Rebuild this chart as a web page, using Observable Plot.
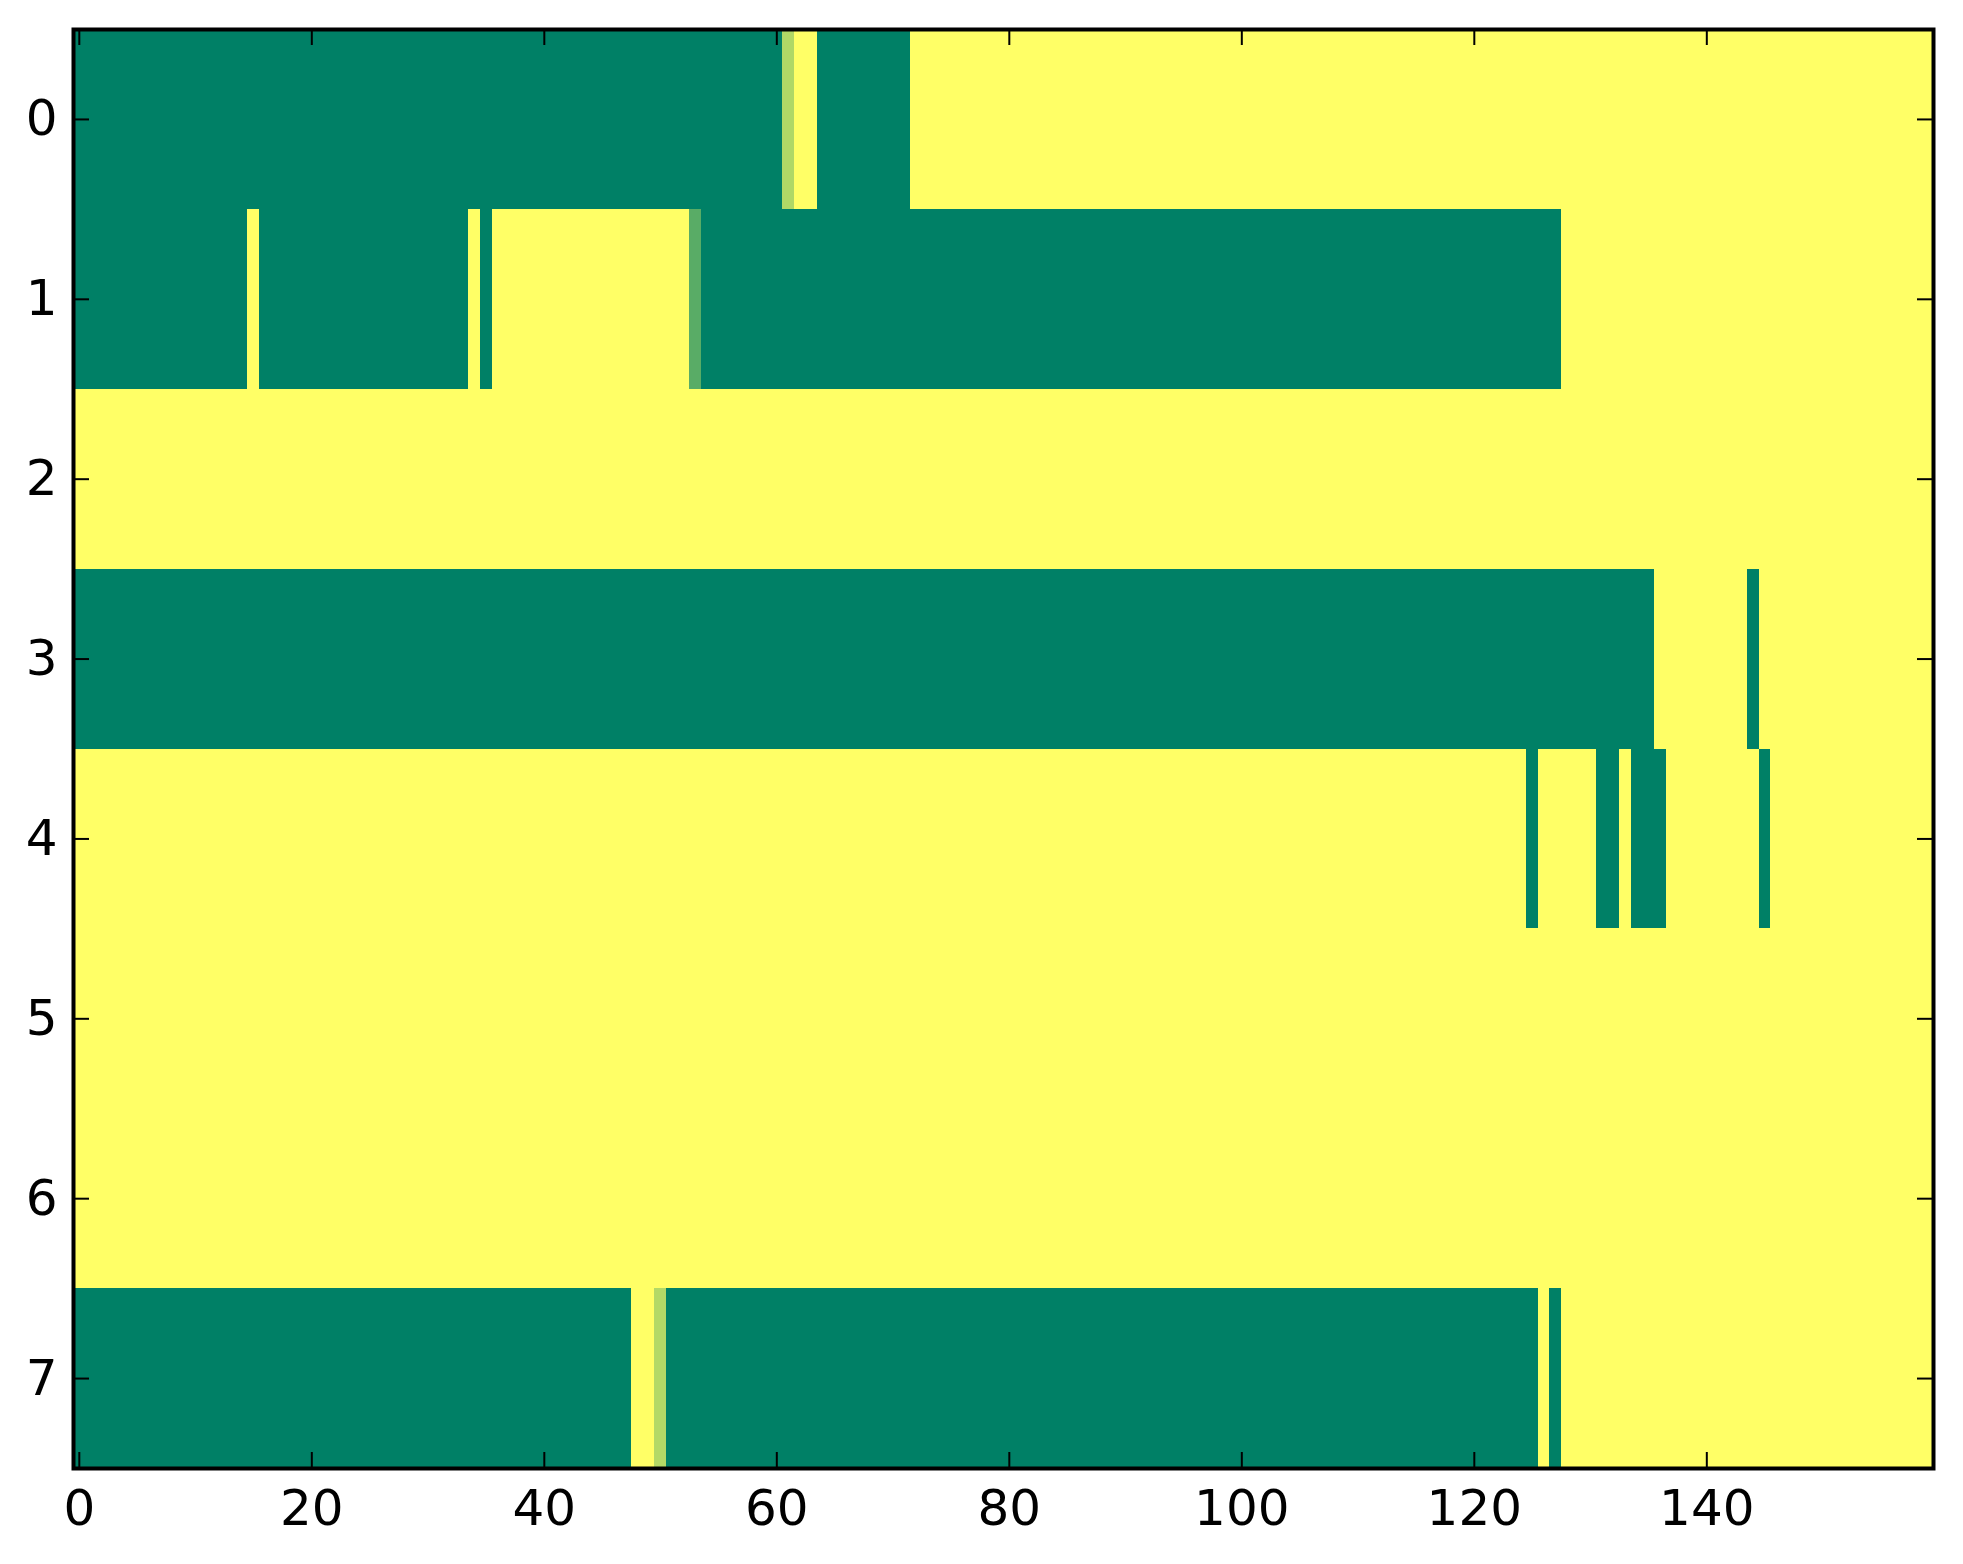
<!DOCTYPE html>
<html>
<head>
<meta charset="utf-8">
<script src="https://cdn.jsdelivr.net/npm/d3@7"></script>
<script src="https://cdn.jsdelivr.net/npm/@observablehq/plot@0.6"></script>
<style>
  html, body { margin: 0; padding: 0; background: #fff; }
  #chart svg { display: block; }
</style>
</head>
<body>
<div id="chart"></div>
<script>
// Each row: runs of [firstColumn, lastColumn, value] (value 0 = green, 1 = yellow)
const row0 = [[0, 60, 0], [61, 61, 0.69], [62, 63, 1], [64, 71, 0], [72, 159, 1]];
const row1 = [[0, 14, 0], [15, 15, 1], [16, 33, 0], [34, 34, 1], [35, 35, 0], [36, 52, 1], [53, 53, 0.35], [54, 127, 0], [128, 159, 1]];
const row2 = [[0, 159, 1]];
const row3 = [[0, 135, 0], [136, 143, 1], [144, 144, 0], [145, 159, 1]];
const row4 = [[0, 124, 1], [125, 125, 0], [126, 130, 1], [131, 132, 0], [133, 133, 1], [134, 136, 0], [137, 144, 1], [145, 145, 0], [146, 159, 1]];
const row5 = [[0, 159, 1]];
const row6 = [[0, 159, 1]];
const row7 = [[0, 47, 0], [48, 49, 1], [50, 50, 0.7], [51, 125, 0], [126, 126, 1], [127, 127, 0], [128, 159, 1]];

const rows = [row0, row1, row2, row3, row4, row5, row6, row7];
const nCols = 160;
const xTicks = [0, 20, 40, 60, 80, 100, 120, 140];
const yTicks = [0, 1, 2, 3, 4, 5, 6, 7];

const cells = rows.flatMap((runs, r) => runs.map(([a, b, v]) => ({row: r, c0: a, c1: b, v})));

const W = 1963, H = 1564;
const mL = 73, mR = 30, mT = 29, mB = 96;
const fw = W - mL - mR, fh = H - mT - mB;
const tickLen = 16;
const font = "DejaVu Sans";

const chart = Plot.plot({
  width: W,
  height: H,
  marginLeft: mL,
  marginRight: mR,
  marginTop: mT,
  marginBottom: mB,
  style: {background: "#fff", fontFamily: font},
  x: {domain: [-0.5, nCols - 0.5], axis: null},
  y: {domain: [-0.5, rows.length - 0.5], reverse: true, axis: null},
  color: {type: "linear", domain: [0, 1], range: ["#008066", "#ffff66"], interpolate: "rgb"},
  marks: [
    Plot.rect(cells, {
      x1: d => d.c0 - 0.5,
      x2: d => d.c1 + 0.5,
      y1: d => d.row - 0.5,
      y2: d => d.row + 0.5,
      fill: "v",
      shapeRendering: "crispEdges"
    }),
    // inward ticks on all four sides
    Plot.tickX(xTicks, {x: d => d, stroke: "black", strokeWidth: 2, insetTop: fh - tickLen}),
    Plot.tickX(xTicks, {x: d => d, stroke: "black", strokeWidth: 2, insetBottom: fh - tickLen}),
    Plot.tickY(yTicks, {y: d => d, stroke: "black", strokeWidth: 2, insetRight: fw - tickLen}),
    Plot.tickY(yTicks, {y: d => d, stroke: "black", strokeWidth: 2, insetLeft: fw - tickLen}),
    Plot.axisX(xTicks, {anchor: "bottom", tickSize: 0, tickPadding: 21, fontSize: 50, fontFamily: font, fill: "black", tickFormat: d => String(d)}),
    Plot.axisY(yTicks, {anchor: "left", tickSize: 0, tickPadding: 16, fontSize: 50, fontFamily: font, fill: "black", tickFormat: d => String(d)}),
    Plot.frame({stroke: "black", strokeWidth: 4})
  ]
});

document.getElementById("chart").appendChild(chart);
</script>
</body>
</html>
